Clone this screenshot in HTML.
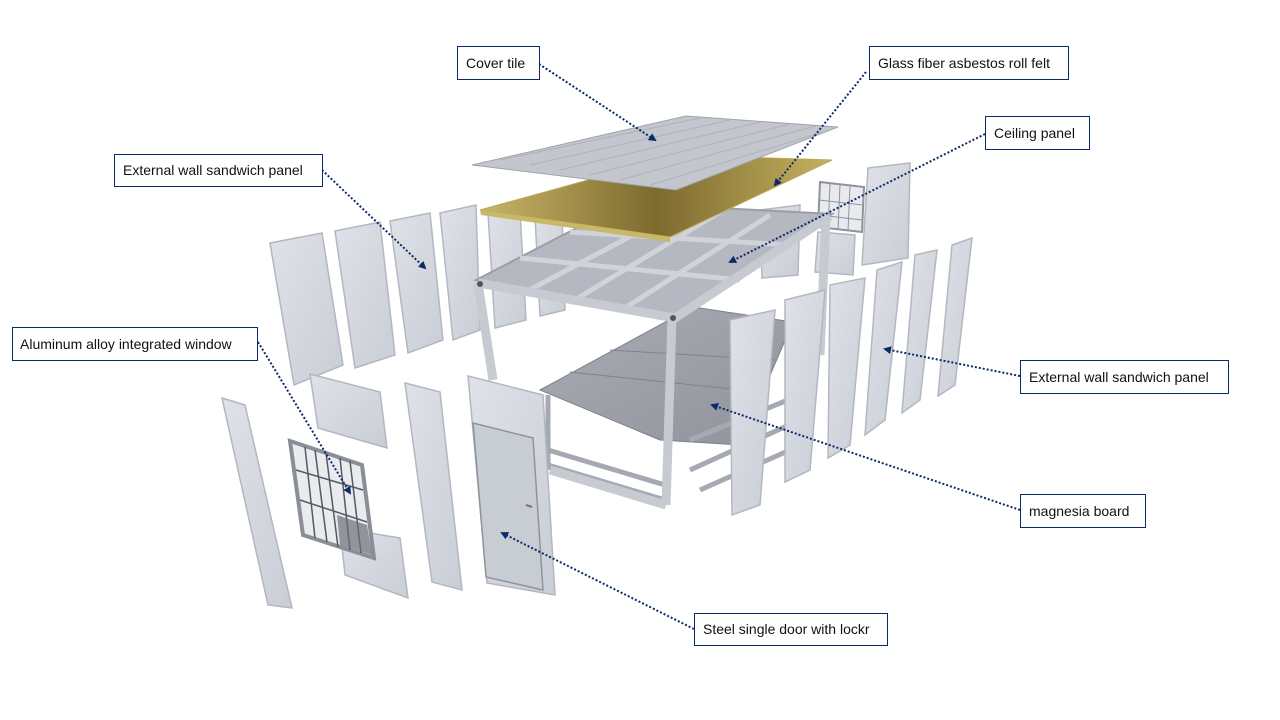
<!DOCTYPE html>
<html><head><meta charset="utf-8"><style>
html,body{margin:0;padding:0;background:#fff;}
svg{display:block;}
text{font-family:"Liberation Sans",sans-serif;font-size:14px;fill:#111;}
</style></head><body>
<svg width="1280" height="720" viewBox="0 0 1280 720" xmlns="http://www.w3.org/2000/svg">
<defs>
<linearGradient id="pan" x1="0" y1="0" x2="1" y2="1"><stop offset="0" stop-color="#dfe2e8"/><stop offset="1" stop-color="#c9cdd5"/></linearGradient>
<linearGradient id="gold" x1="0" y1="0" x2="1" y2="0"><stop offset="0" stop-color="#c8b668"/><stop offset="0.5" stop-color="#7d6a2e"/><stop offset="1" stop-color="#c4b160"/></linearGradient>
<linearGradient id="floor" x1="0" y1="0" x2="1" y2="1"><stop offset="0" stop-color="#a9acb4"/><stop offset="1" stop-color="#90939b"/></linearGradient>
<marker id="ah" markerWidth="8" markerHeight="8" refX="6" refY="4" orient="auto" markerUnits="userSpaceOnUse"><path d="M0,0 L8,4 L0,8 z" fill="#0b2a6b"/></marker>
</defs>
<g stroke="#b3b7c0" stroke-width="1.5" fill="url(#pan)">
<polygon points="270,243 322,233 343,365 294,385"/>
<polygon points="335,231 380,222 395,355 355,368"/>
<polygon points="390,221 430,213 443,340 408,353"/>
<polygon points="440,213 476,205 480,330 453,340"/>
<polygon points="488,213 520,210 526,320 495,328"/>
<polygon points="535,215 562,212 565,310 540,316"/>
<polygon points="868,168 910,163 908,258 862,265"/>
<polygon points="818,232 855,235 853,275 815,272"/>
<polygon points="760,210 800,205 798,275 762,278"/>
</g>
<polygon points="820,182 864,187 862,232 818,227" fill="#e8eaee" stroke="#8f939c" stroke-width="2"/>
<g stroke="#8f939c" stroke-width="1"><line x1="830" y1="184" x2="828" y2="229"/><line x1="840" y1="185" x2="838" y2="230"/><line x1="850" y1="186" x2="848" y2="231"/><line x1="819" y1="200" x2="863" y2="205"/><line x1="819" y1="215" x2="862" y2="220"/></g>
<!-- floor -->
<polygon points="540,390 693,307 793,322 740,445 660,440" fill="url(#floor)" stroke="#7d8088"/>
<g stroke="#80838b" stroke-width="1"><line x1="570" y1="372" x2="760" y2="392"/><line x1="610" y1="350" x2="775" y2="360"/></g>
<g stroke="#a5a9b1" stroke-width="5">
<line x1="548" y1="450" x2="665" y2="485"/><line x1="548" y1="465" x2="665" y2="500"/>
<line x1="690" y1="440" x2="800" y2="395"/><line x1="690" y1="470" x2="800" y2="420"/><line x1="700" y1="490" x2="790" y2="450"/>
<line x1="548" y1="395" x2="548" y2="470"/>
</g>
<!-- frame -->
<polygon points="476,280 625,203 832,214 675,318" fill="#b5b8c0" stroke="#9a9ea6" stroke-width="2"/>
<g stroke="#d0d3d9" stroke-width="5">
<line x1="520" y1="295" x2="680" y2="210"/><line x1="570" y1="303" x2="720" y2="212"/><line x1="622" y1="310" x2="770" y2="215"/>
<line x1="520" y1="258" x2="740" y2="280"/><line x1="570" y1="232" x2="790" y2="245"/>
</g>
<g fill="none" stroke="#c7cad1" stroke-width="9">
<polyline points="478,283 675,318 830,216"/>
<line x1="478" y1="283" x2="493" y2="380"/>
<line x1="672" y1="318" x2="666" y2="505"/>
<line x1="826" y1="218" x2="820" y2="355"/>
<line x1="550" y1="470" x2="666" y2="505"/>
</g>
<circle cx="480" cy="284" r="3" fill="#555"/><circle cx="673" cy="318" r="3" fill="#555"/>
<polygon points="480,210 678,155 832,160 670,237" fill="url(#gold)" stroke="#b9a75a"/>
<polygon points="480,210 670,237 670,242 481,215" fill="#c9b76a"/>
<polygon points="472,165 686,116 838,127 676,190" fill="#c3c6cd" stroke="#9fa3ab"/>
<g stroke="#aeb2ba" stroke-width="1">
<line x1="500" y1="160" x2="700" y2="118"/><line x1="530" y1="165" x2="730" y2="120"/><line x1="560" y1="170" x2="760" y2="122"/><line x1="590" y1="175" x2="790" y2="124"/><line x1="620" y1="180" x2="815" y2="126"/><line x1="650" y1="185" x2="830" y2="130"/>
</g>
<g stroke="#b3b7c0" stroke-width="1.5" fill="url(#pan)">
<polygon points="730,320 775,310 760,505 732,515"/>
<polygon points="785,300 825,290 810,470 785,482"/>
<polygon points="830,285 865,278 850,445 828,458"/>
<polygon points="877,270 902,262 885,420 865,435"/>
<polygon points="915,255 937,250 920,400 902,413"/>
<polygon points="952,245 972,238 955,385 938,396"/>
<polygon points="222,398 245,405 292,608 268,605"/>
<polygon points="310,374 380,392 387,448 318,428"/>
<polygon points="340,528 400,538 408,598 345,575"/>
<polygon points="405,383 440,392 462,590 432,582"/>
<polygon points="468,376 543,395 555,595 487,583"/>
</g>
<polygon points="473,423 533,438 543,590 486,577" fill="#c8ccd3" stroke="#8f939c" stroke-width="1.5"/>
<line x1="526" y1="505" x2="532" y2="507" stroke="#777" stroke-width="2"/>
<polygon points="290,441 362,465 374,558 303,535" fill="#e9ebef" stroke="#8a8e96" stroke-width="4"/>
<g stroke="#555a63" stroke-width="1.5">
<line x1="326" y1="453" x2="338" y2="547"/>
<line x1="296" y1="470" x2="363" y2="490"/><line x1="300" y1="500" x2="367" y2="522"/>
<line x1="305" y1="447" x2="315" y2="538"/><line x1="315" y1="450" x2="327" y2="542"/>
<line x1="340" y1="458" x2="350" y2="550"/><line x1="350" y1="461" x2="361" y2="553"/>
</g>
<polygon points="337,515 367,525 372,555 340,545" fill="#6b6f77" opacity="0.7"/>
<g stroke="#0b2a6b" stroke-width="2" stroke-dasharray="2,2" fill="none" marker-end="url(#ah)">
<line x1="539" y1="64" x2="655" y2="140"/>
<line x1="866" y1="72" x2="775" y2="185"/>
<line x1="985" y1="134" x2="730" y2="262"/>
<line x1="322" y1="170" x2="425" y2="268"/>
<line x1="258" y1="342" x2="350" y2="493"/>
<line x1="1020" y1="376" x2="885" y2="349"/>
<line x1="1020" y1="510" x2="712" y2="405"/>
<line x1="694" y1="629" x2="502" y2="533"/>
</g>
<g fill="#fff" stroke="#0b2a6b" stroke-width="1">
<rect x="457.5" y="46.5" width="82" height="33"/>
<rect x="869.5" y="46.5" width="199" height="33"/>
<rect x="985.5" y="116.5" width="104" height="33"/>
<rect x="114.5" y="154.5" width="208" height="32"/>
<rect x="12.5" y="327.5" width="245" height="33"/>
<rect x="1020.5" y="360.5" width="208" height="33"/>
<rect x="1020.5" y="494.5" width="125" height="33"/>
<rect x="694.5" y="613.5" width="193" height="32"/>
</g>
<text x="466" y="68">Cover tile</text>
<text x="878" y="68">Glass fiber asbestos roll felt</text>
<text x="994" y="138">Ceiling panel</text>
<text x="123" y="175">External wall sandwich panel</text>
<text x="20" y="349">Aluminum alloy integrated window</text>
<text x="1029" y="382">External wall sandwich panel</text>
<text x="1029" y="516">magnesia board</text>
<text x="703" y="634">Steel single door with lockr</text>
</svg>
</body></html>
